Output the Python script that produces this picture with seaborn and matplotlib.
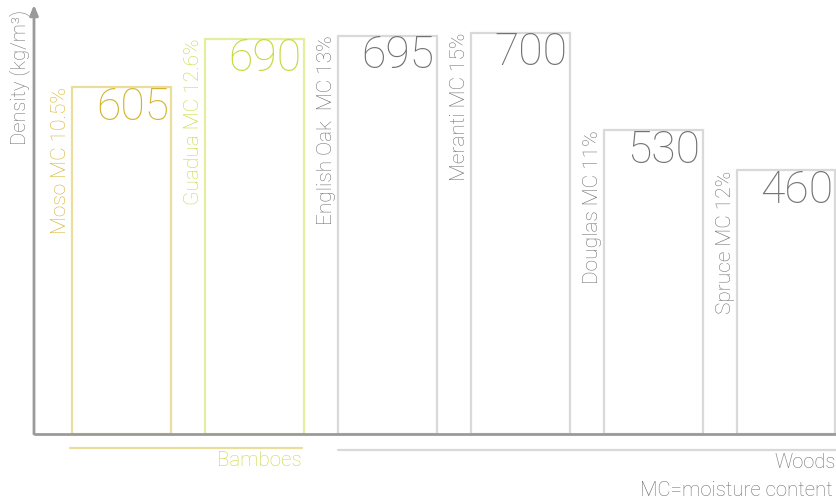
import matplotlib
matplotlib.use("Agg")
import matplotlib.pyplot as plt
import seaborn as sns
import pandas as pd

# Densities of bamboo and wood species
species = ["Moso", "Guadua", "English Oak ", "Meranti", "Douglas", "Spruce"]
moisture = ["10.5%", "12.6%", "13%", "15%", "11%", "12%"]
density = [605, 690, 695, 700, 530, 460]
groups = ["Bamboes", "Bamboes", "Woods", "Woods", "Woods", "Woods"]

edge_colors = ["#ebdd9c", "#e4ee9f", "#d9d9d9", "#d9d9d9", "#d9d9d9", "#d9d9d9"]
text_colors = ["#d4b42e", "#c8d93c", "#727272", "#727272", "#727272", "#727272"]

labels = [f"{s} MC {m}" for s, m in zip(species, moisture)]
df = pd.DataFrame({"label": labels, "density": density})

sns.set_style("white")
plt.rcParams["font.family"] = ["Roboto", "DejaVu Sans"]
plt.rcParams["font.weight"] = "light"

W, H = 836, 504
fig = plt.figure(figsize=(W / 100, H / 100), dpi=100)
ax = fig.add_axes([34 / W, 70 / H, 802 / W, 424 / H])

sns.barplot(data=df, x="label", y="density", hue="label", palette=edge_colors,
            fill=False, width=0.744, linewidth=1.6, legend=False, ax=ax)

ax.set_xlim(-0.658, 5.376)
ax.set_ylim(0, 740)
for s in ax.spines.values():
    s.set_visible(False)
ax.set_xticks([])
ax.set_yticks([])
ax.set_xlabel("")
ax.set_ylabel("")

# value on top-right inside each bar, series name alongside the left edge
half = 0.744 / 2
for i, (lab, val) in enumerate(zip(labels, density)):
    ax.text(i + half - 0.015, val + 2, str(val), ha="right", va="top",
            fontsize=32, color=text_colors[i])
    ax.text(i - half - 0.012, val, lab, rotation=90, ha="right", va="top",
            fontsize=15, color=text_colors[i])

# axes with arrow on the vertical one
axis_col = "#9a9a9a"
ax.plot([-0.658, 5.376], [0, 0], color=axis_col, lw=2, clip_on=False,
        solid_capstyle="butt")
ax.annotate("", xy=(0, 1.012), xytext=(0, 0), xycoords="axes fraction",
            arrowprops=dict(arrowstyle="-|>,head_length=0.6,head_width=0.25",
                            color=axis_col, lw=2, shrinkA=0, shrinkB=0))

# group brackets under the bars
ax.plot([-0.39, 1.36], [-24.5, -24.5], color="#ebdd9c", lw=1.6, clip_on=False)
ax.text(1.355, -47, "Bamboes", ha="right", va="center", fontsize=14.8,
        color="#c8d93c")
ax.plot([1.628, 5.376], [-28, -28], color="#d9d9d9", lw=1.6, clip_on=False)
ax.text(5.376, -49, "Woods", ha="right", va="center", fontsize=14.5,
        color="#727272")

fig.text(20 / W, 1 - 10 / H, "Density (kg/m³)", rotation=90, ha="center",
         va="top", fontsize=14.5, color="#727272")
fig.text(833 / W, 1 - 490 / H, "MC=moisture content", ha="right",
         va="center", fontsize=14.7, color="#727272")

fig.savefig("out.png", dpi=100)
